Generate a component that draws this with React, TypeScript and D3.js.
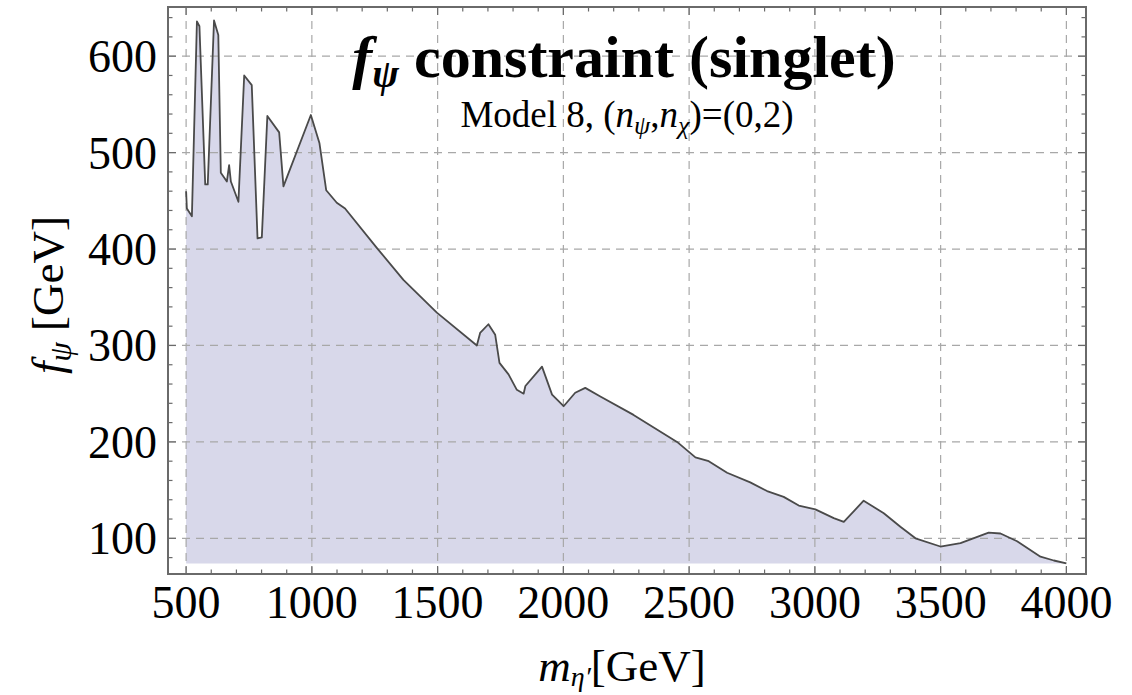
import React, { useEffect, useRef } from 'react'
import * as d3 from 'd3'

// m_eta' [GeV] sampled along the boundary
const massValues = [
	500, 503, 523, 543, 553, 576, 586, 611, 628, 638, 662, 671, 678, 708, 731, 761, 784, 801, 823, 870, 887,
	996, 1030, 1057, 1099, 1132, 1259, 1364, 1431, 1497, 1656, 1669, 1702, 1729, 1746, 1782, 1815, 1842, 1849,
	1915, 1955, 2001, 2047, 2087, 2147, 2279, 2452, 2525, 2578, 2651, 2743, 2810, 2876, 2936, 3002, 3075, 3115,
	3194, 3274, 3340, 3400, 3499, 3579, 3691, 3738, 3804, 3897, 3950, 4000,
]
// f_psi [GeV]
const fPsiValues = [
	460, 442, 434, 636, 631, 467, 467, 637, 622, 479, 470, 487, 470, 449, 580, 570, 411, 412, 538, 521, 465,
	539, 510, 461, 448, 442, 401, 368, 351, 334, 300, 313, 322, 311, 282, 270, 254, 250, 258,
	278, 249, 237, 251, 256, 247, 228, 200, 184, 180, 168, 158, 149, 143, 134, 130, 121, 117,
	139, 126, 112, 100, 91.5, 95, 106, 105, 97, 81, 77, 74,
]
const xTicks = [500, 1000, 1500, 2000, 2500, 3000, 3500, 4000]
const yTicks = [100, 200, 300, 400, 500, 600]

const App = () => {
	const ref = useRef<SVGSVGElement>(null)

	useEffect(() => {
		const svg = d3.select(ref.current)
		svg.selectAll('*').remove()

		const left = 168, right = 1086, top = 7, bottom = 574
		const xScale = d3.scaleLinear().domain([428, 4078]).range([left, right])
		const yScale = d3.scaleLinear().domain([63, 651]).range([bottom, top])
		const data = massValues.map((m, i) => ({ m, f: fPsiValues[i] }))
		const base = d3.min(fPsiValues) as number

		const area = d3
			.area<{ m: number; f: number }>()
			.x(d => xScale(d.m))
			.y0(yScale(base))
			.y1(d => yScale(d.f))
		const line = d3
			.line<{ m: number; f: number }>()
			.x(d => xScale(d.m))
			.y(d => yScale(d.f))

		svg.append('path').attr('d', area(data)).attr('fill', '#d8d8ea')

		// dashed grid
		const grid = svg.append('g').attr('stroke', '#a8a8a8').attr('stroke-width', 1.2).attr('stroke-dasharray', '8,6')
		xTicks.forEach(t => {
			grid.append('line').attr('x1', xScale(t)).attr('x2', xScale(t)).attr('y1', top).attr('y2', bottom)
		})
		yTicks.forEach(t => {
			grid.append('line').attr('x1', left).attr('x2', right).attr('y1', yScale(t)).attr('y2', yScale(t))
		})

		svg.append('path')
			.attr('d', line(data))
			.attr('fill', 'none')
			.attr('stroke', '#4a4a4a')
			.attr('stroke-width', 1.8)
			.attr('stroke-linejoin', 'round')

		// frame and inward ticks on all sides
		svg.append('rect')
			.attr('x', left)
			.attr('y', top)
			.attr('width', right - left)
			.attr('height', bottom - top)
			.attr('fill', 'none')
			.attr('stroke', '#6a6a6a')
			.attr('stroke-width', 2)

		const ticks = svg.append('g').attr('stroke', '#6a6a6a').attr('stroke-width', 1.2)
		d3.range(500, 4001, 100).forEach(t => {
			const len = t % 500 === 0 ? 8 : 4.5
			const x = xScale(t)
			ticks.append('line').attr('x1', x).attr('x2', x).attr('y1', bottom).attr('y2', bottom - len)
			ticks.append('line').attr('x1', x).attr('x2', x).attr('y1', top).attr('y2', top + len)
		})
		d3.range(80, 641, 20).forEach(t => {
			const len = t % 100 === 0 ? 8 : 4.5
			const y = yScale(t)
			ticks.append('line').attr('x1', left).attr('x2', left + len).attr('y1', y).attr('y2', y)
			ticks.append('line').attr('x1', right).attr('x2', right - len).attr('y1', y).attr('y2', y)
		})

		const font = "'Liberation Serif', 'Times New Roman', serif"
		svg.append('g')
			.selectAll('text')
			.data(xTicks)
			.join('text')
			.attr('x', d => xScale(d))
			.attr('y', 618)
			.attr('text-anchor', 'middle')
			.attr('font-family', font)
			.attr('font-size', 46)
			.text(d => d)
		svg.append('g')
			.selectAll('text')
			.data(yTicks)
			.join('text')
			.attr('x', 157)
			.attr('y', d => yScale(d) + 16)
			.attr('text-anchor', 'end')
			.attr('font-family', font)
			.attr('font-size', 46)
			.text(d => d)

		// title
		const title = svg.append('text')
			.attr('x', 624)
			.attr('y', 77)
			.attr('text-anchor', 'middle')
			.attr('font-family', font)
			.attr('font-weight', 'bold')
			.attr('font-size', 60)
		title.append('tspan').attr('font-style', 'italic').text('f')
		title.append('tspan').attr('font-style', 'italic').attr('font-size', 40).attr('dy', 10).text('ψ')
		title.append('tspan').attr('dy', -10).text(' constraint (singlet)')

		const sub = svg.append('text')
			.attr('x', 627)
			.attr('y', 127)
			.attr('text-anchor', 'middle')
			.attr('font-family', font)
			.attr('font-size', 37)
		sub.append('tspan').text('Model 8, (')
		sub.append('tspan').attr('font-style', 'italic').text('n')
		sub.append('tspan').attr('font-style', 'italic').attr('font-size', 26).attr('dy', 7).text('ψ')
		sub.append('tspan').attr('dy', -7).text(',')
		sub.append('tspan').attr('font-style', 'italic').text('n')
		sub.append('tspan').attr('font-style', 'italic').attr('font-size', 26).attr('dy', 7).text('χ')
		sub.append('tspan').attr('dy', -7).text(')=(0,2)')

		// axis labels
		const xl = svg.append('text')
			.attr('x', 622)
			.attr('y', 681)
			.attr('text-anchor', 'middle')
			.attr('font-family', font)
			.attr('font-size', 45)
		xl.append('tspan').attr('font-style', 'italic').text('m')
		xl.append('tspan').attr('font-style', 'italic').attr('font-size', 28).attr('dy', 5).text('η′')
		xl.append('tspan').attr('dy', -5).text('[GeV]')

		const yl = svg.append('text')
			.attr('transform', 'translate(63,295) rotate(-90)')
			.attr('text-anchor', 'middle')
			.attr('font-family', font)
			.attr('font-size', 45)
		yl.append('tspan').attr('font-style', 'italic').text('f')
		yl.append('tspan').attr('font-style', 'italic').attr('font-size', 31).attr('dy', 8).text('ψ')
		yl.append('tspan').attr('dy', -8).text(' [GeV]')
	}, [])

	return (
		<svg
			ref={ref}
			width={1132}
			height={695}
			style={{ position: 'absolute', left: 0, top: 0, background: '#fff' }}
		/>
	)
}

export default App
